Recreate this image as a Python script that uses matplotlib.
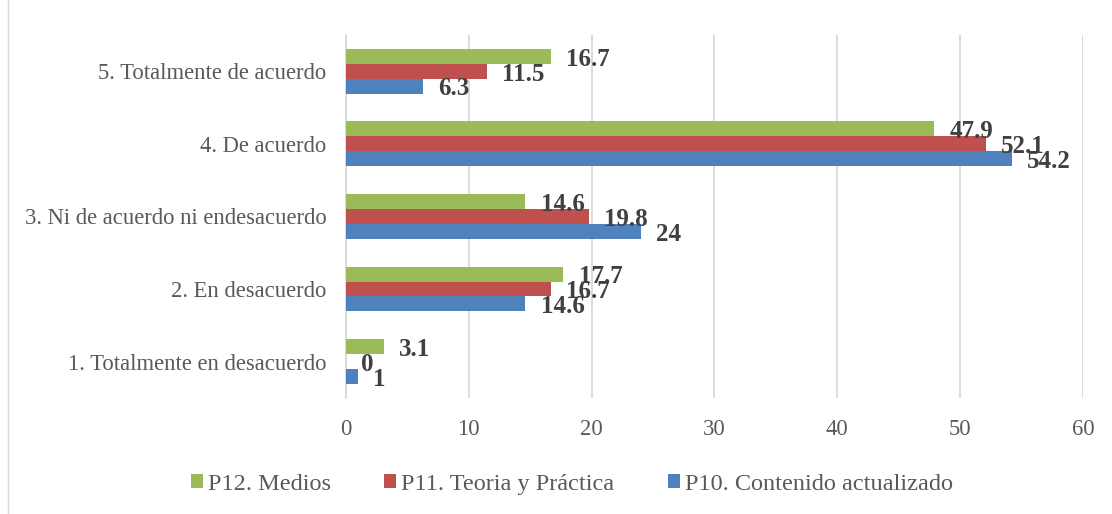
import matplotlib
matplotlib.use('Agg')
import matplotlib.pyplot as plt
import numpy as np
from matplotlib.patches import Rectangle

categories = ['1. Totalmente en desacuerdo', '2. En desacuerdo',
              '3. Ni de acuerdo ni endesacuerdo', '4. De acuerdo',
              '5. Totalmente de acuerdo']
p10 = [1, 14.6, 24, 54.2, 6.3]
p11 = [0, 16.7, 19.8, 52.1, 11.5]
p12 = [3.1, 17.7, 14.6, 47.9, 16.7]
series_names = ['P10. Contenido actualizado', 'P11. Teoria y Práctica', 'P12. Medios']
colors = ['#4F81BD', '#C0504D', '#9BBB59']
xticks = [0, 10, 20, 30, 40, 50, 60]

plt.rcParams['font.family'] = ['Liberation Serif', 'DejaVu Serif']

fig = plt.figure(figsize=(11.12, 5.14), dpi=100)
ax = fig.add_axes([0.311, 0.226, 0.663, 0.706])

y = np.arange(len(categories))
h = 0.205
for i, (vals, name, col) in enumerate(zip([p10, p11, p12], series_names, colors)):
	ax.barh(y + (i - 1) * h, vals, height=h, color=col, label=name, zorder=3)
	for yy, v in zip(y + (i - 1) * h, vals):
		ax.annotate('%g' % v, xy=(v, yy), xytext=(11, -2), textcoords='offset points',
			ha='left', va='center', fontsize=18, fontweight='bold', color='#404040', zorder=4)

ax.set_ylim(-0.5, len(categories) - 0.5)
ax.set_xlim(0, 60)
ax.set_xticks(xticks)
ax.set_yticks(y)
ax.set_yticklabels(categories)
ax.tick_params(axis='both', length=0, labelsize=16.3, colors='#595959')
ax.tick_params(axis='x', pad=15)
ax.tick_params(axis='y', pad=14)
ax.grid(axis='x', color='#D9D9D9', linewidth=1.3, zorder=0)
for s in ['top', 'right', 'bottom']:
	ax.spines[s].set_visible(False)
ax.spines['left'].set_color('#D9D9D9')
ax.spines['left'].set_linewidth(1.3)

handles, labels = ax.get_legend_handles_labels()
fig.legend(handles[::-1], labels[::-1], loc='center', bbox_to_anchor=(0.514, 0.058), ncol=3,
	frameon=False, fontsize=17.5, handlelength=0.5, handleheight=0.5, handletextpad=0.2,
	columnspacing=2.2, labelcolor='#595959')

fig.patches.append(Rectangle((0.007, -0.01), 1.0, 1.02, transform=fig.transFigure,
	fill=False, edgecolor='#D9D9D9', linewidth=1))

fig.savefig('out.png', dpi=100)
